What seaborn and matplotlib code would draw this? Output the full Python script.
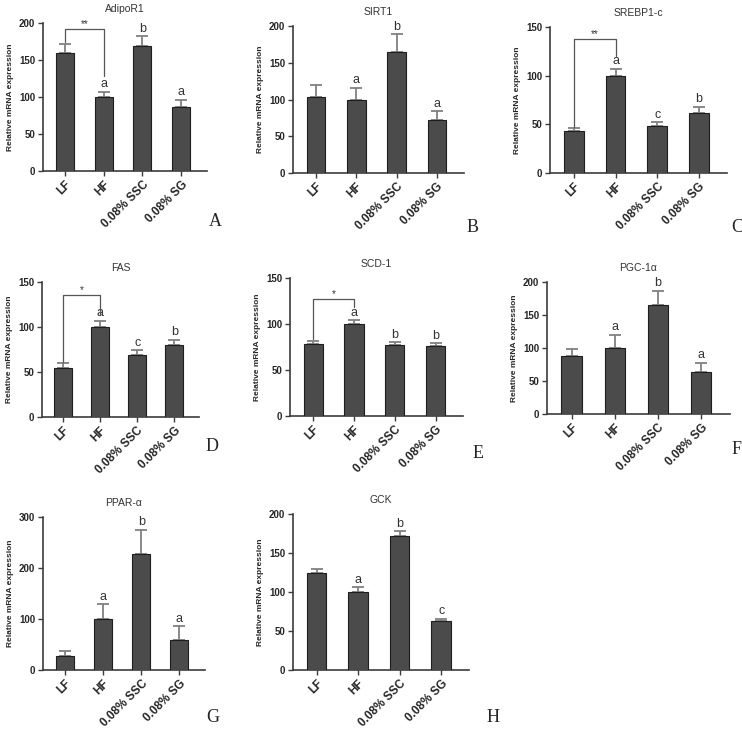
import numpy as np
import pandas as pd
import matplotlib
matplotlib.use("Agg")
import matplotlib.pyplot as plt
import seaborn as sns

# === Data ===
groups = ["LF", "HF", "0.08% SSC", "0.08% SG"]

genes = ["AdipoR1", "SIRT1", "SREBP1-c", "FAS", "SCD-1", "PGC-1α", "PPAR-α", "GCK"]
panel_tags = ["A", "B", "C", "D", "E", "F", "G", "H"]

adipor1_mean = [160, 100, 169, 87]
adipor1_sem = [11, 7, 13, 9]
sirt1_mean = [104, 100, 165, 72]
sirt1_sem = [16, 16, 24, 12]
srebp1c_mean = [43, 100, 48, 62]
srebp1c_sem = [3, 7, 4, 6]
fas_mean = [55, 100, 69, 80]
fas_sem = [5, 7, 5, 6]
scd1_mean = [78, 100, 77, 76]
scd1_sem = [4, 4, 3, 3]
pgc1a_mean = [88, 100, 165, 64]
pgc1a_sem = [10, 20, 22, 14]
ppara_mean = [28, 100, 228, 59]
ppara_sem = [9, 29, 47, 27]
gck_mean = [124, 100, 172, 63]
gck_sem = [5, 6, 6, 3]

means = [adipor1_mean, sirt1_mean, srebp1c_mean, fas_mean,
         scd1_mean, pgc1a_mean, ppara_mean, gck_mean]
sems = [adipor1_sem, sirt1_sem, srebp1c_sem, fas_sem,
        scd1_sem, pgc1a_sem, ppara_sem, gck_sem]

# significance letters over each bar
letters = [
    ["", "a", "b", "a"],
    ["", "a", "b", "a"],
    ["", "a", "c", "b"],
    ["", "a", "c", "b"],
    ["", "a", "b", "b"],
    ["", "a", "b", "a"],
    ["", "a", "b", "a"],
    ["", "a", "b", "c"],
]

# y axis maximum and tick step per panel
y_max = [200, 200, 150, 150, 150, 200, 300, 200]
y_step = [50, 50, 50, 50, 50, 50, 100, 50]

# LF vs HF bracket: (stars, bracket height, left leg end, right leg end)
brackets = {
    0: ("**", 192, 175, 128),
    2: ("**", 138, 47, 120),
    3: ("*", 136, 61, 113),
    4: ("*", 127, 84, 119),
}

# axes boxes in pixels (x0, x1, y_top, y_bottom) on a 742x732 canvas
W, H = 742, 732
boxes = [
    (43, 207, 23, 171),
    (293, 464, 26, 173),
    (550, 727, 27, 173),
    (42, 199, 282, 417),
    (290, 463, 278, 416),
    (547, 730, 282, 414),
    (43, 205, 517, 670),
    (293, 469, 514, 670),
]
tag_pos = [(215, 222), (473, 227), (737, 227), (212, 447),
           (478, 453), (737, 450), (213, 717), (493, 718)]

# === Style ===
sns.set_style("ticks")
plt.rcParams["font.family"] = ["Liberation Sans", "DejaVu Sans"]

bar_color = "#4b4b4b"
axis_color = "#3c3c3c"
err_color = "#808080"

fig = plt.figure(figsize=(W / 100, H / 100), dpi=100)

for i, gene in enumerate(genes):
    x0, x1, yt, yb = boxes[i]
    ax = fig.add_axes([x0 / W, 1 - yb / H, (x1 - x0) / W, (yb - yt) / H])

    df = pd.DataFrame({"group": groups, "value": means[i], "sem": sems[i]})
    sns.barplot(data=df, x="group", y="value", color=bar_color, saturation=1,
                width=0.47, edgecolor="#1e1e1e", linewidth=0.8,
                errorbar=None, ax=ax, zorder=3)
    ax.errorbar(np.arange(len(groups)), df["value"],
                yerr=[np.zeros(len(groups)), df["sem"]],
                fmt="none", ecolor=err_color, elinewidth=1.3,
                capsize=4, capthick=1.3, zorder=2)

    top = df["value"] + df["sem"]
    for j, lab in enumerate(letters[i]):
        if lab:
            ax.text(j, top[j] + y_max[i] * 0.01, lab, ha="center", va="bottom",
                    fontsize=9, color="#333333")

    if i in brackets:
        stars, by, left_end, right_end = brackets[i]
        ax.plot([0, 0, 1, 1], [left_end, by, by, right_end],
                color="#555555", lw=0.9, zorder=4, clip_on=False)
        ax.text(0.5, by, stars, ha="center", va="bottom", fontsize=7,
                color="#333333")

    ax.set_xlim(-0.57, 3.67)
    ax.set_ylim(0, y_max[i])
    ax.set_yticks(np.arange(0, y_max[i] + 1, y_step[i]))
    ax.set_xlabel("")
    ax.set_ylabel("Relative mRNA expression", fontsize=6, fontweight="bold",
                  labelpad=4)
    ax.set_title(gene, fontsize=7.5, pad=8, color="#333333")

    ax.set_xticks(range(len(groups)))
    ax.set_xticklabels(groups, rotation=45, ha="right", rotation_mode="anchor",
                       fontsize=8.5, fontweight="bold")
    for t in ax.get_yticklabels():
        t.set_fontsize(7)
        t.set_fontweight("bold")

    sns.despine(ax=ax)
    for side in ["left", "bottom"]:
        ax.spines[side].set_linewidth(1.2)
        ax.spines[side].set_color(axis_color)
    ax.tick_params(axis="both", direction="out", length=3.5, width=1.0,
                   color=axis_color, pad=2)

    tx, ty = tag_pos[i]
    fig.text(tx / W, 1 - ty / H, panel_tags[i], ha="center", va="center",
             fontsize=13, family="Liberation Serif")

plt.savefig("out.png", dpi=100)
